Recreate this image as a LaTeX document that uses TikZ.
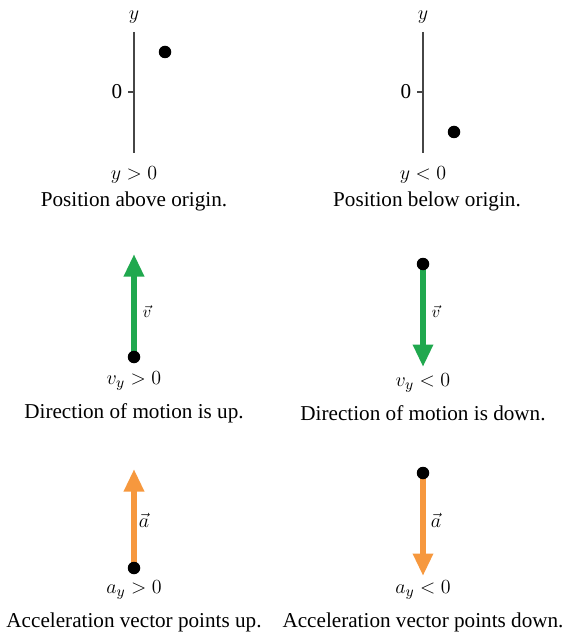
\documentclass[tikz,border=0pt]{standalone}
\usepackage{fontspec}
\setmainfont{Liberation Serif}
\usetikzlibrary{arrows.meta}
\definecolor{velgreen}{RGB}{32,168,78}
\definecolor{accorange}{RGB}{246,152,62}
\definecolor{axisgray}{RGB}{70,70,70}
\tikzset{
  dot/.style={circle,fill=black,inner sep=0pt,minimum size=7.5pt},
  axisline/.style={axisgray,line width=0.8pt},
  vecarrow/.style={line width=3.6pt,-{Triangle[width=11.5pt,length=13.5pt]}}
}
\begin{document}
\begin{tikzpicture}[x=0.6pt,y=-0.6pt,every node/.style={align=center,font=\fontsize{12.7}{15}\selectfont}]
\useasboundingbox (0,0) rectangle (565,634);
% position
\coordinate (laxtop) at (134,32);
\coordinate (laxbot) at (134,153);
\coordinate (lorig) at (134,92);
\coordinate (ltick) at (128,92);
\draw[axisline] (laxtop) -- (laxbot);
\draw[axisline] (ltick) -- (lorig);
\node (ly) at (134,17) {$y$};
\node (lzero) at (117,92) {0};
\node[dot] (lp) at (165,52) {};
\node (lcond) at (134,175) {$y>0$};
\node (ltxt) at (134,201) {Position above origin.};
\coordinate (raxtop) at (423,32);
\coordinate (raxbot) at (423,153);
\coordinate (rorig) at (423,92);
\coordinate (rtick) at (417,92);
\draw[axisline] (raxtop) -- (raxbot);
\draw[axisline] (rtick) -- (rorig);
\node (ry) at (423,17) {$y$};
\node (rzero) at (406,92) {0};
\node[dot] (rp) at (454,132) {};
\node (rcond) at (423,175) {$y<0$};
\node (rtxt) at (427,201) {Position below origin.};
% velocity
\coordinate (lvbase) at (134,357);
\coordinate (lvtip) at (134,254);
\draw[vecarrow,velgreen] (lvbase) -- (lvtip);
\node[dot] (lv) at (lvbase) {};
\node[font=\fontsize{10}{12}\selectfont] (lvlab) at (147,312) {$\vec v$};
\node (lvcond) at (134,381) {$v_y>0$};
\node (lvtxt) at (134,413) {Direction of motion is up.};
\coordinate (rvbase) at (423,264);
\coordinate (rvtip) at (423,367);
\draw[vecarrow,velgreen] (rvbase) -- (rvtip);
\node[dot] (rv) at (rvbase) {};
\node[font=\fontsize{10}{12}\selectfont] (rvlab) at (436,312) {$\vec v$};
\node (rvcond) at (423,383) {$v_y<0$};
\node (rvtxt) at (423,413) {Direction of motion is down.};
% acceleration
\coordinate (labase) at (134,568);
\coordinate (latip) at (134,469);
\draw[vecarrow,accorange] (labase) -- (latip);
\node[dot] (la) at (labase) {};
\node[font=\fontsize{11.5}{13}\selectfont] (lalab) at (144,520) {$\vec a$};
\node (lacond) at (134,590) {$a_y>0$};
\node (latxt) at (134,622) {Acceleration vector points up.};
\coordinate (rabase) at (423,473);
\coordinate (ratip) at (423,576);
\draw[vecarrow,accorange] (rabase) -- (ratip);
\node[dot] (ra) at (rabase) {};
\node[font=\fontsize{11.5}{13}\selectfont] (ralab) at (436,520) {$\vec a$};
\node (racond) at (423,590) {$a_y<0$};
\node (ratxt) at (423,622) {Acceleration vector points down.};
\end{tikzpicture}
\end{document}
